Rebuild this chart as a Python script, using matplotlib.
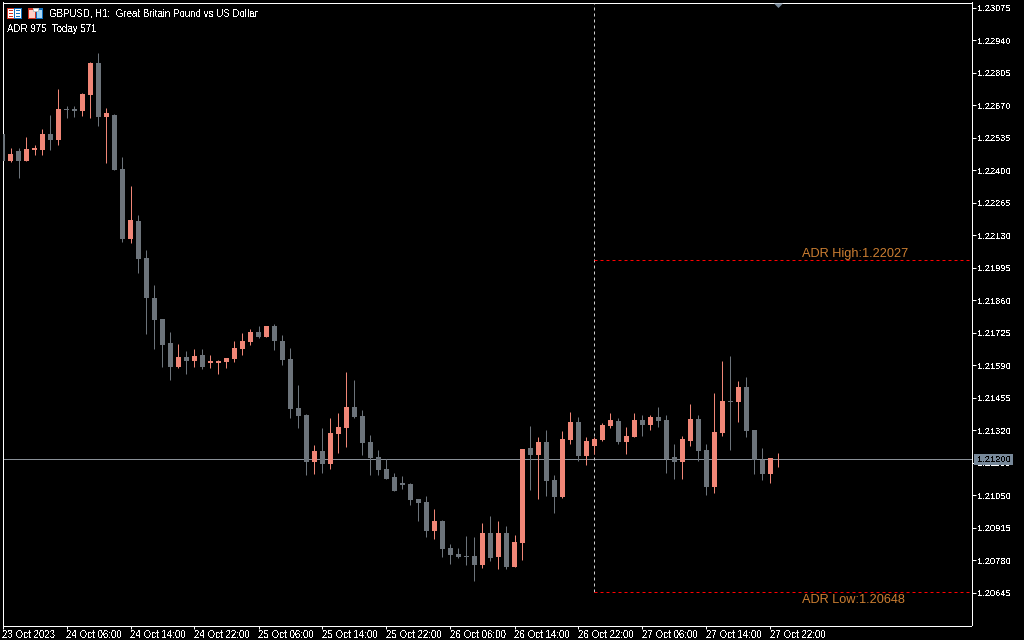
import matplotlib
matplotlib.use('Agg')
import matplotlib.pyplot as plt
from matplotlib.patches import Rectangle

opens = [1.22549, 1.22438, 1.22478, 1.22438, 1.22484, 1.22484, 1.22549, 1.22525, 1.22653, 1.22653,
         1.22646, 1.22712, 1.22844, 1.22621, 1.22628, 1.22404, 1.22113, 1.22187, 1.22034, 1.21868,
         1.21781, 1.21680, 1.21581, 1.21622, 1.21606, 1.21631, 1.21597, 1.21597, 1.21602, 1.21614,
         1.21655, 1.21684, 1.21727, 1.21706, 1.21752, 1.21689, 1.21614, 1.21411, 1.21381, 1.21186,
         1.21232, 1.21178, 1.21302, 1.21327, 1.21415, 1.21377, 1.21269, 1.21207, 1.21157, 1.21124,
         1.21100, 1.21094, 1.21032, 1.21020, 1.20900, 1.20941, 1.20829, 1.20804, 1.20796, 1.20796,
         1.20758, 1.20892, 1.20791, 1.20892, 1.20750, 1.20850, 1.21244, 1.21216, 1.21269, 1.21112,
         1.21041, 1.21278, 1.21352, 1.21211, 1.21253, 1.21278, 1.21336, 1.21356, 1.21269, 1.21290,
         1.21360, 1.21340, 1.21373, 1.21360, 1.21207, 1.21186, 1.21273, 1.21365, 1.21236, 1.21082,
         1.21307, 1.21440, 1.21436, 1.21498, 1.21319, 1.21195, 1.21137, 1.21199]
highs = [1.22557, 1.22491, 1.22491, 1.22536, 1.22503, 1.22569, 1.22628, 1.22736, 1.22666, 1.22666,
         1.22719, 1.22848, 1.22885, 1.22657, 1.22633, 1.22453, 1.22333, 1.22212, 1.22067, 1.21921,
         1.21781, 1.21727, 1.21676, 1.21647, 1.21655, 1.21655, 1.21631, 1.21610, 1.21618, 1.21689,
         1.21723, 1.21739, 1.21752, 1.21752, 1.21760, 1.21714, 1.21660, 1.21506, 1.21385, 1.21257,
         1.21327, 1.21369, 1.21389, 1.21560, 1.21527, 1.21403, 1.21298, 1.21236, 1.21199, 1.21141,
         1.21128, 1.21100, 1.21032, 1.21045, 1.20991, 1.20945, 1.20846, 1.20829, 1.20879, 1.20875,
         1.20933, 1.20962, 1.20941, 1.20921, 1.20883, 1.21240, 1.21336, 1.21290, 1.21319, 1.21133,
         1.21315, 1.21394, 1.21373, 1.21290, 1.21290, 1.21348, 1.21389, 1.21369, 1.21331, 1.21389,
         1.21381, 1.21381, 1.21415, 1.21381, 1.21261, 1.21294, 1.21428, 1.21381, 1.21261, 1.21473,
         1.21606, 1.21626, 1.21523, 1.21539, 1.21319, 1.21244, 1.21203, 1.21224]
lows = [1.22379, 1.22434, 1.22368, 1.22438, 1.22463, 1.22463, 1.22484, 1.22504, 1.22617, 1.22621,
        1.22625, 1.22617, 1.22583, 1.22430, 1.22400, 1.22101, 1.22096, 1.21971, 1.21718, 1.21655,
        1.21581, 1.21527, 1.21577, 1.21552, 1.21581, 1.21573, 1.21577, 1.21552, 1.21577, 1.21602,
        1.21631, 1.21672, 1.21702, 1.21706, 1.21651, 1.21589, 1.21369, 1.21327, 1.21133, 1.21137,
        1.21141, 1.21157, 1.21224, 1.21249, 1.21369, 1.21216, 1.21133, 1.21133, 1.21116, 1.21065,
        1.21074, 1.21007, 1.20941, 1.20875, 1.20867, 1.20791, 1.20762, 1.20787, 1.20758, 1.20692,
        1.20746, 1.20775, 1.20741, 1.20741, 1.20750, 1.20779, 1.21070, 1.21032, 1.21045, 1.20974,
        1.21036, 1.21261, 1.21191, 1.21174, 1.21220, 1.21273, 1.21327, 1.21261, 1.21220, 1.21290,
        1.21294, 1.21319, 1.21331, 1.21141, 1.21116, 1.21116, 1.21253, 1.21191, 1.21049, 1.21057,
        1.21294, 1.21236, 1.21352, 1.21290, 1.21137, 1.21112, 1.21100, 1.21166]
closes = [1.22438, 1.22466, 1.22438, 1.22487, 1.22491, 1.22549, 1.22525, 1.22653, 1.22650, 1.22645,
          1.22715, 1.22844, 1.22621, 1.22637, 1.22400, 1.22113, 1.22192, 1.22030, 1.21868, 1.21777,
          1.21672, 1.21581, 1.21622, 1.21606, 1.21626, 1.21581, 1.21606, 1.21606, 1.21618, 1.21660,
          1.21689, 1.21727, 1.21706, 1.21752, 1.21689, 1.21610, 1.21407, 1.21377, 1.21186, 1.21232,
          1.21178, 1.21307, 1.21331, 1.21415, 1.21373, 1.21265, 1.21203, 1.21153, 1.21116, 1.21065,
          1.21090, 1.21028, 1.21016, 1.20900, 1.20941, 1.20825, 1.20800, 1.20791, 1.20791, 1.20758,
          1.20892, 1.20787, 1.20892, 1.20750, 1.20854, 1.21240, 1.21216, 1.21269, 1.21108, 1.21041,
          1.21282, 1.21352, 1.21211, 1.21273, 1.21282, 1.21340, 1.21360, 1.21269, 1.21294, 1.21360,
          1.21340, 1.21373, 1.21356, 1.21199, 1.21186, 1.21282, 1.21365, 1.21232, 1.21082, 1.21311,
          1.21440, 1.21436, 1.21498, 1.21315, 1.21195, 1.21137, 1.21203, 1.21200]

time_labels = ['23 Oct 2023', '24 Oct 06:00', '24 Oct 14:00', '24 Oct 22:00', '25 Oct 06:00', '25 Oct 14:00',
               '25 Oct 22:00', '26 Oct 06:00', '26 Oct 14:00', '26 Oct 22:00', '27 Oct 06:00', '27 Oct 14:00',
               '27 Oct 22:00']
price_ticks = [1.23075, 1.22940, 1.22805, 1.22670, 1.22535, 1.22400, 1.22265, 1.22130, 1.21995,
               1.21860, 1.21725, 1.21590, 1.21455, 1.21320, 1.21185, 1.21050, 1.20915, 1.20780, 1.20645]
bid = 1.21200
adr_high = 1.22027
adr_low = 1.20648
cross_bar = 74

UP = '#F08677'
DOWN = '#6C737A'
TICK_FONT = 'Liberation Sans'
X_SIZE = 7.0
Y_SIZE = 6.7
W, H = 1024, 640

plt.rcParams['text.antialiased'] = False

fig = plt.figure(figsize=(W / 100, H / 100), dpi=100, facecolor='black')
ax = fig.add_axes([2.5 / W, (H - 625.5) / H, 969 / W, 623 / H], facecolor='black')
ax.set_xlim(0, 969 / 8)
ax.set_ylim(1.205082, 1.230965)

for s in ax.spines.values():
    s.set_color('white')
    s.set_linewidth(0.72)

x = list(range(len(opens)))
colors = [UP if c >= o else DOWN for o, c in zip(opens, closes)]
bottoms = [min(o, c) for o, c in zip(opens, closes)]
heights = [max(abs(c - o), 0.00002) for o, c in zip(opens, closes)]
right_end = ax.get_xlim()[1]

ax.axhline(bid, color='#8A9098', lw=0.72, zorder=1)
ax.plot([cross_bar, cross_bar], [adr_low, ax.get_ylim()[1]], color='#D0D0D0', lw=0.72,
        ls=(0, (3, 3)), zorder=1, snap=True)
for level in (adr_high, adr_low):
    ax.plot([cross_bar, right_end], [level, level], color='#FF0000', lw=0.72, ls=(0, (3, 3)),
            zorder=1, snap=True)
ax.vlines(x, lows, highs, color=colors, lw=0.72, zorder=2)
ax.bar(x, heights, bottom=bottoms, width=0.625, color=colors, linewidth=0, zorder=3)

ax.set_xticks(x[::8])
ax.set_xticklabels(time_labels, family=TICK_FONT, fontsize=X_SIZE, color='white', ha='left')
ax.xaxis.set_tick_params(color='white', length=2.2, width=0.72, pad=1)

ax.yaxis.tick_right()
ax.set_yticks(price_ticks)
ax.set_yticklabels(['%.5f' % p for p in price_ticks], family=TICK_FONT, fontsize=Y_SIZE, color='white')
ax.yaxis.set_tick_params(color='white', length=3, width=0.72, pad=1)

for level, txt, dy, va in [(adr_high, 'ADR High:%.5f' % adr_high, -0.2, 'bottom'),
                           (adr_low, 'ADR Low:%.5f' % adr_low, -1.5, 'top')]:
    t = ax.annotate(txt, xy=(100, level), xytext=(0, dy), textcoords='offset points', va=va, ha='left',
                    family='Liberation Sans', fontsize=9.2, color='#CD7F32')
    t.set_antialiased(True)

# position marker at the top edge
ax.plot([97], [1.0], marker=[(-1, 0), (1, 0), (0, -1)], ms=6.5, color='#778899', mew=0,
        transform=ax.get_xaxis_transform(), clip_on=False, zorder=5)


def px_rect(x0, y0, w, h, color, z=1):
    fig.add_artist(Rectangle((x0 / W, 1 - (y0 + h) / H), w / W, h / H, transform=fig.transFigure,
                             facecolor=color, edgecolor='none', zorder=z))


# bid label box
px_rect(974, 454, 39, 11, '#778899')
fig.text(977 / W, 1 - 459.5 / H, '%.5f' % bid, family=TICK_FONT, fontsize=Y_SIZE, color='black',
         va='center', ha='left', zorder=2)

# header icons
px_rect(7, 8, 15, 11, '#D03020')
px_rect(14, 8, 8, 11, '#1070C0')
px_rect(8, 9, 6, 9, 'white')
px_rect(15, 9, 6, 9, 'white')
for yy in (10, 13, 16):
    px_rect(9, yy, 4, 1, '#D03020')
    px_rect(16, yy, 4, 1, '#1070C0')
px_rect(28, 8, 8, 11, '#D03020')
px_rect(36, 8, 7, 11, '#1070C0')
px_rect(29, 10, 6, 8, '#FFD0C8')
px_rect(37, 10, 5, 8, '#A8D8F8')
px_rect(33, 8, 6, 4, '#C0C0C0')
px_rect(34, 9, 4, 2, 'white')

fig.text(49 / W, 1 - 13.5 / H, 'GBPUSD, H1:  Great Britain Pound vs US Dollar', family=TICK_FONT,
         fontsize=X_SIZE, color='white', va='center', ha='left')
fig.text(7 / W, 1 - 28.5 / H, 'ADR 975  Today 571', family=TICK_FONT, fontsize=X_SIZE, color='white',
         va='center', ha='left')

fig.savefig('out.png', dpi=100, facecolor='black')
